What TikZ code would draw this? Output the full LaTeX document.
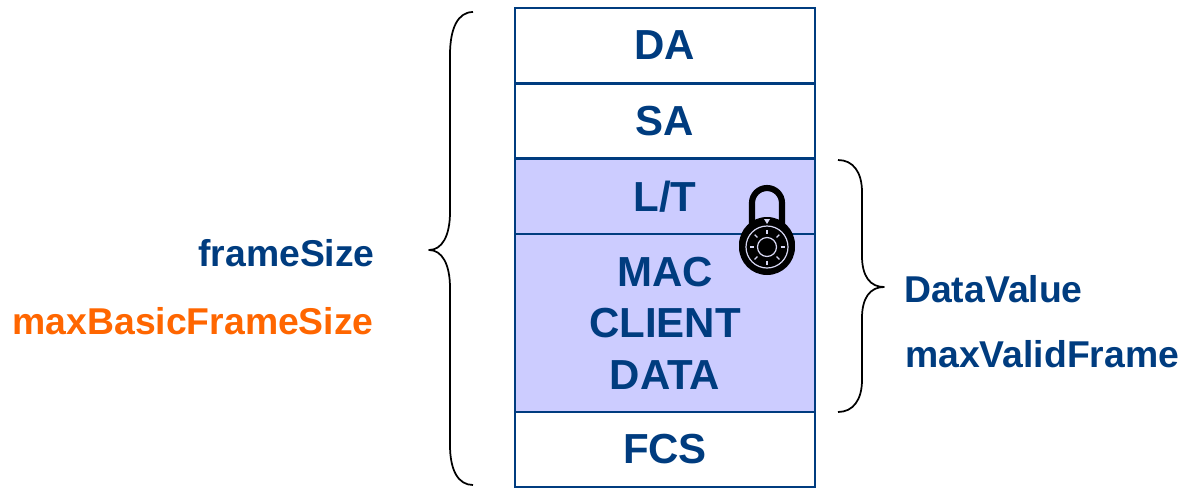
\documentclass[tikz,border=0pt]{standalone}
\usepackage{fontspec}
\setmainfont{Liberation Sans}
\definecolor{framecol}{HTML}{003C7F}
\definecolor{datacol}{HTML}{CCCCFF}
\definecolor{maxcol}{HTML}{FF6600}
\definecolor{dialcol}{HTML}{D8D8F4}
\tikzset{
  field/.style={draw=framecol,line width=2.1pt,text=framecol,inner sep=0pt,outer sep=0pt,minimum width=225pt,align=center,font=\fontsize{31.5}{38.5}\selectfont\bfseries},
  label/.style={inner sep=0pt,text=framecol,font=\fontsize{28}{32}\selectfont\bfseries},
  bracket/.style={draw=black,line width=1.3pt,line join=round}
}
\begin{document}
\begin{tikzpicture}[x=0.75pt,y=-0.75pt]
    \useasboundingbox (0,0) rectangle (1183,487);
    \node [field,minimum height=56.25pt] (da) at (665,45.5) {DA};
    \node [field,minimum height=56.25pt] (sa) at (665,121) {SA};
    \node [field,fill=datacol,minimum height=56.25pt] (lt) at (665,196.5) {L/T};
    \node [field,fill=datacol,minimum height=133.5pt] (client) at (665,323) {MAC\\CLIENT\\DATA};
    \node [field,minimum height=56.25pt] (fcs) at (665,449.5) {FCS};
    \node [label,anchor=east] (framesize) at (375,253) {frameSize};
    \node [label,anchor=east,text=maxcol] (maxbasic) at (374,321) {maxBasicFrameSize};
    \node [label,anchor=west] (datavalue) at (904,289) {DataValue};
    \node [label,anchor=west] (maxvalid) at (905,354) {maxValidFrame};
    % braces
    \draw [bracket] (473,12) .. controls (458,12) and (450,28) .. (450,55) -- (450,212)
        .. controls (450,236) and (442,250) .. (429,250)
        .. controls (442,250) and (450,264) .. (450,288) -- (450,445)
        .. controls (450,470) and (458,485) .. (473,485);
    \draw [bracket] (838,160) .. controls (853,160) and (862,172) .. (862,192) -- (862,256)
        .. controls (862,276) and (870,287) .. (884,287)
        .. controls (870,287) and (862,298) .. (862,318) -- (862,380)
        .. controls (862,400) and (853,412) .. (838,412);
    % lock
    \draw [black,line width=4.6pt] (752,225) -- (752,203) arc (180:360:15) -- (782,225);
    \fill [black] (767,245) circle (28);
    \fill [black] (767,247) circle (28);
    \draw [dialcol,line width=0.9pt] (767,247) circle (21);
    \draw [dialcol,line width=0.9pt] (767,247) circle (9.5);
    \foreach \a in {0,45,...,315}
      \draw [dialcol,line width=0.9pt] (767,247) ++(\a:13.5) -- ++(\a:4);
    \fill [dialcol] (764,219) -- (770,219) -- (767,224) -- cycle;
\end{tikzpicture}
\end{document}
